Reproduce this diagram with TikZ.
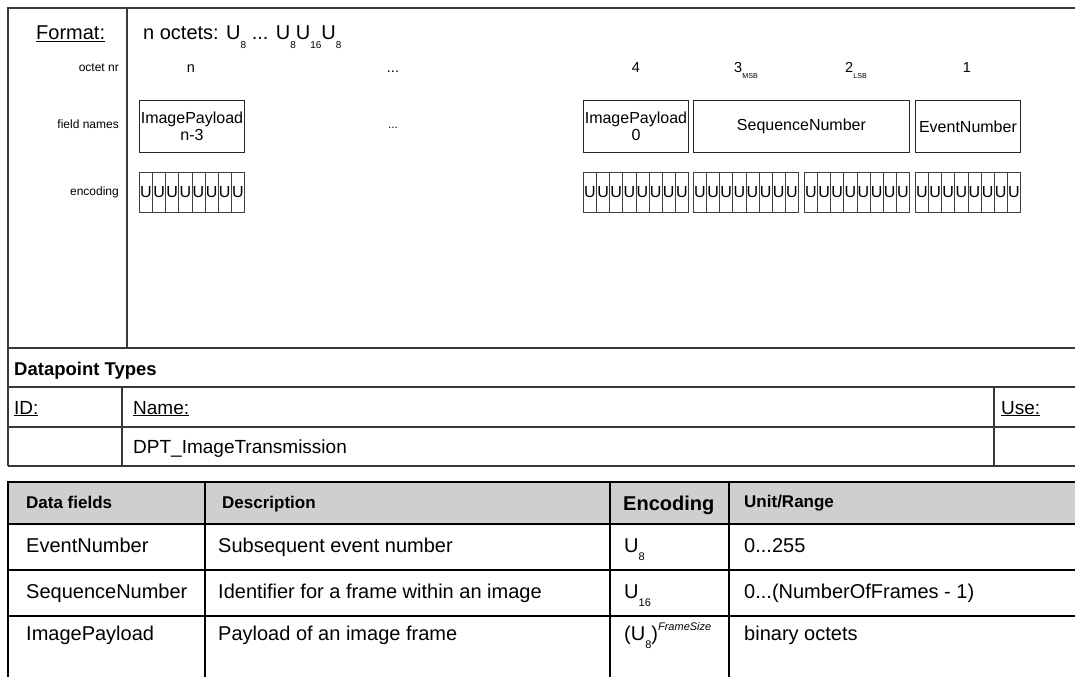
\documentclass[tikz,border=0pt]{standalone}
\usepackage{fontspec}
\setmainfont{Liberation Sans}
\usepackage{graphicx}

% lowered, reduced index as used for the encoding names (U_8, 3_MSB, ...)
\newcommand\lsub[2][0.5]{\raisebox{-0.42em}{\scalebox{#1}{#2}}}
\newcommand\fs[1]{\fontsize{#1}{#1}\selectfont}

\begin{document}
\begin{tikzpicture}[x=1pt,y=-1pt,
  frame/.style={draw=black!78, line width=1.5pt},
  fieldbox/.style={draw=black!85, line width=0.9pt, minimum width=105pt,
    minimum height=52pt, inner sep=0pt, align=center, anchor=north west,
    font=\fontsize{16}{16.5}\selectfont},
  ucell/.style={draw=black!75, line width=0.8pt, minimum width=13.125pt,
    minimum height=40pt, inner sep=0pt, anchor=north west, font=\fs{16}},
  rowlbl/.style={anchor=base east, inner sep=0pt, font=\fs{12}},
  octnr/.style={anchor=base, inner sep=0pt, font=\fs{14.5}},
  txt/.style={anchor=base west, inner sep=0pt},
  body/.style={txt, font=\fs{20}},
  head/.style={txt, font=\bfseries\fs{17}},
  tab/.style={draw=black, line width=2.6pt},
]
\useasboundingbox (0,0) rectangle (1075,677);

% ---------------- format frame ----------------
\draw[frame] (1075,8) -- (8,8) -- (8,466);
\draw[frame] (127,8) -- (127,348);
\draw[frame] (8,348) -- (1075,348);
\draw[frame] (8,387) -- (1075,387);
\draw[frame] (8,427) -- (1075,427);
\draw[frame] (8,466) -- (1075,466);
\draw[frame] (122,387) -- (122,466);
\draw[frame] (994,387) -- (994,466);

\node[txt, font=\fs{20}] (fmt) at (36,40) {\underline{Format:}};
\node[txt, font=\fs{20}] (octets) at (143,40)
  {n octets: U\lsub{8} ... U\lsub{8}U\lsub{16}U\lsub{8}};

\node[rowlbl] (l-octet) at (119,71) {octet nr};
\node[rowlbl] (l-field) at (119,128) {field names};
\node[rowlbl] (l-enc)   at (119,195) {encoding};

% octet numbers
\node[octnr] (o-n) at (191,72) {n};
\node[octnr] (o-dots) at (393,72) {...};
\node[octnr] (o-4) at (636,72) {4};
\node[octnr] (o-3) at (746,72) {3\lsub[0.55]{\fs{13}MSB}};
\node[octnr] (o-2) at (856,72) {2\lsub[0.55]{\fs{13}LSB}};
\node[octnr] (o-1) at (967,72) {1};

% field names
\node[fieldbox] (f-last) at (139,100) {ImagePayload\\n-3};
\node[anchor=base, inner sep=0pt, font=\fs{12}] (f-dots) at (393,128) {...};
\node[fieldbox] (f-first) at (583,100) {ImagePayload\\0};
\node[fieldbox, minimum width=216pt] (f-seq) at (693,100) {SequenceNumber};
\node[fieldbox] (f-evt) at (915,100) {EventNumber};

% encoding cells, eight per octet
\foreach \g/\x in {a/139, b/583, c/693, d/804, e/915}
  \foreach \i in {0,...,7}
    \node[ucell] (enc-\g-\i) at ({\x+\i*13.125},172) {U};

% datapoint types
\node[txt, font=\bfseries\fs{18.5}] (dpt-head) at (14,375) {Datapoint Types};
\node[txt, font=\fs{19}] (dpt-id) at (14,414) {\underline{ID:}};
\node[txt, font=\fs{19}] (dpt-name) at (133,414) {\underline{Name:}};
\node[txt, font=\fs{19}] (dpt-use) at (1001,414) {\underline{Use:}};
\node[txt, font=\fs{19}] (dpt-val) at (133,453) {DPT\_ImageTransmission};

% ---------------- data field table ----------------
\fill[black!19] (8,482) rectangle (1075,524);
\draw[tab] (1075,482) -- (8,482) -- (8,677);
\draw[tab] (8,524) -- (1075,524);
\draw[tab] (8,570) -- (1075,570);
\draw[tab] (8,616) -- (1075,616);
\draw[tab] (205,482) -- (205,677);
\draw[tab] (610,482) -- (610,677);
\draw[tab] (729,482) -- (729,677);

\node[head] (h-field) at (26,508) {Data fields};
\node[head] (h-desc) at (222,508) {Description};
\node[txt, font=\bfseries\fs{20}] (h-enc) at (623,510) {Encoding};
\node[head] (h-unit) at (744,507) {Unit/Range};

\node[body] (r1-field) at (26,552) {EventNumber};
\node[body] (r1-desc) at (218,552) {Subsequent event number};
\node[body] (r1-enc) at (624,552) {U\lsub[0.55]{8}};
\node[body] (r1-unit) at (744,552) {0...255};

\node[body] (r2-field) at (26,598) {SequenceNumber};
\node[body] (r2-desc) at (218,598) {Identifier for a frame within an image};
\node[body] (r2-enc) at (624,598) {U\lsub[0.55]{16}};
\node[body] (r2-unit) at (744,598) {0...(NumberOfFrames - 1)};

\node[body] (r3-field) at (26,640) {ImagePayload};
\node[body] (r3-desc) at (218,640) {Payload of an image frame};
\node[body] (r3-enc) at (624,640)
  {(U\lsub[0.55]{8})\raisebox{0.5em}{\scalebox{0.55}{\itshape FrameSize}}};
\node[body] (r3-unit) at (744,640) {binary octets};
\end{tikzpicture}
\end{document}
